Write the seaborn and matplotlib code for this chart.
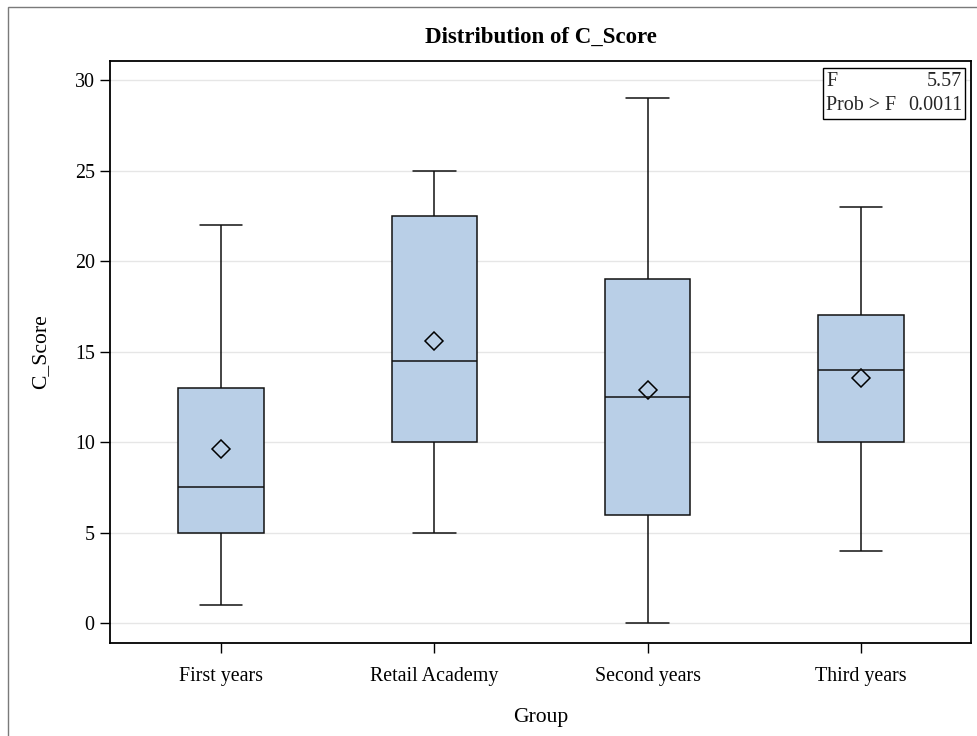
import numpy as np
import pandas as pd
import matplotlib
matplotlib.use("Agg")
import matplotlib.pyplot as plt
from matplotlib.patches import Rectangle
import seaborn as sns

groups = ["First years", "Retail Academy", "Second years", "Third years"]
mins = [1, 5, 0, 4]
q1s = [5, 10, 6, 10]
medians = [7.5, 14.5, 12.5, 14]
q3s = [13, 22.5, 19, 17]
maxs = [22, 25, 29, 23]
means = [9.62, 15.6, 12.88, 13.55]
yticks = [0, 5, 10, 15, 20, 25, 30]
f_value = "5.57"
p_value = "0.0011"

rows = []
for g, a, b, c, d, e in zip(groups, mins, q1s, medians, q3s, maxs):
    for v in (a, b, c, d, e):
        rows.append({"Group": g, "C_Score": v})
df = pd.DataFrame(rows)
mean_df = pd.DataFrame({"Group": groups, "mean": means})

sns.set_theme(style="white")
plt.rcParams["font.family"] = ["Liberation Serif", "DejaVu Serif"]

fig = plt.figure(figsize=(9.78, 7.36), dpi=100)
W, H = 978, 736
ax = fig.add_axes([110 / W, 1 - 643 / H, (971 - 110) / W, (643 - 61) / H])

# outer frame of the graph
fig.patches.append(Rectangle((8 / W, -0.1), 1.2, 1 - 7 / H + 0.1, transform=fig.transFigure,
                             fill=False, edgecolor="#7a7a7a", linewidth=1.0))

box_fill = "#B9CFE7"
sns.boxplot(data=df, x="Group", y="C_Score", order=groups, width=0.4, whis=(0, 100),
            color=box_fill, saturation=1, linecolor="#111111", linewidth=1.1,
            showfliers=False, ax=ax)
sns.pointplot(data=mean_df, x="Group", y="mean", order=groups, linestyle="none",
              marker="D", markersize=9, markerfacecolor="none", markeredgecolor="black",
              markeredgewidth=1.1, color="black", errorbar=None, ax=ax)

ax.set_xlim(-0.52, 3.516)
ax.set_ylim(-1.09, 31.05)
ax.set_yticks(yticks)
ax.set_yticklabels([str(t) for t in yticks])
ax.yaxis.grid(True, color="#e6e6e6", linewidth=1.0)
ax.xaxis.grid(False)
ax.set_axisbelow(True)
for s in ax.spines.values():
    s.set_color("black")
    s.set_linewidth(1.3)
ax.tick_params(axis="both", which="major", direction="out", length=7, width=1.0,
               color="black", labelsize=14.4, labelcolor="black", left=True, bottom=True)
ax.tick_params(axis="x", pad=10)
ax.tick_params(axis="y", pad=4)

ax.set_xlabel("Group", fontsize=15.6, color="black", labelpad=16)
ax.set_ylabel("C_Score", fontsize=15.6, color="black", labelpad=18)
ax.set_title("Distribution of C_Score", fontsize=16.5, fontweight="bold", color="black", pad=13)

# statistics inset
bx0, by0 = (823 - 110) / 861, 1 - (119 - 61) / 582
bw, bh = (965 - 823) / 861, (119 - 67.7) / 582
ax.add_patch(Rectangle((bx0, by0), bw, bh, transform=ax.transAxes, fill=True,
                       facecolor="white", edgecolor="black", linewidth=1.0, zorder=5))
pad = 3 / 861
ax.text(bx0 + pad, by0 + bh * 0.74, "F", transform=ax.transAxes, ha="left", va="center",
        fontsize=14.4, zorder=6)
ax.text(bx0 + bw - pad, by0 + bh * 0.74, f_value, transform=ax.transAxes, ha="right",
        va="center", fontsize=14.4, zorder=6)
ax.text(bx0 + pad, by0 + bh * 0.27, "Prob > F", transform=ax.transAxes, ha="left",
        va="center", fontsize=14.4, zorder=6)
ax.text(bx0 + bw - pad, by0 + bh * 0.27, p_value, transform=ax.transAxes, ha="right",
        va="center", fontsize=14.4, zorder=6)

fig.savefig("out.png", dpi=100)
